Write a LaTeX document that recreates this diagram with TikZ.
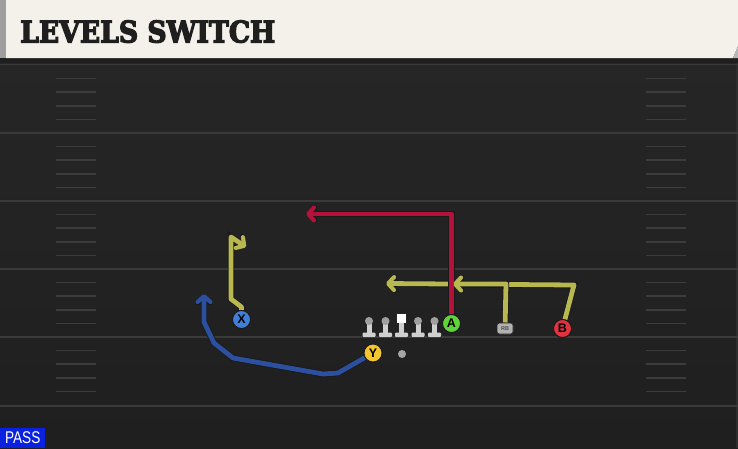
\documentclass[tikz,border=0pt]{standalone}
\usepackage{fontspec}
\setmainfont{Liberation Sans}
\newfontfamily\titlefont[BoldFeatures={FakeBold=4.5}]{DejaVu Serif}
\usetikzlibrary{arrows.meta}
\definecolor{fieldtop}{HTML}{272727}
\definecolor{fieldbot}{HTML}{1F1F1F}
\definecolor{headcream}{HTML}{F4F1EA}
\definecolor{yardline}{HTML}{3A3A3A}
\definecolor{hashc}{HTML}{3C3C3C}
\definecolor{routeyel}{HTML}{B9B74F}
\definecolor{routered}{HTML}{B3123B}
\definecolor{routeblue}{HTML}{2C4F9E}
\definecolor{pA}{HTML}{5ED43A}
\definecolor{pB}{HTML}{E2323F}
\definecolor{pX}{HTML}{3F7FD8}
\definecolor{pY}{HTML}{F2C62C}
\definecolor{linec}{HTML}{CFCFCF}
\definecolor{passblue}{HTML}{0A22E0}
\tikzset{
  player/.style={circle, draw=black!90, line width=0.9pt, minimum size=18pt, inner sep=0pt,
    font=\bfseries\fontsize{12.5}{12.5}\selectfont, text=black},
  rbbox/.style={rounded corners=2.5pt, fill=gray!60, draw=black!85, line width=0.6pt,
    minimum width=16pt, minimum height=11pt, inner sep=0pt,
    font=\bfseries\fontsize{5.5}{5.5}\selectfont, text=black!70},
  route/.style={line width=4.8pt, line join=round, preaction={draw=black!90, line width=6.4pt}},
  tipr/.style={-{Straight Barb[length=6pt,width=13pt,line width=0pt 0.85,round]}},
  yard/.style={draw=yardline, line width=1.8pt},
  hash/.style={draw=hashc, line width=1.5pt},
  pics/lineman/.style={code={
    \filldraw[black!85, line width=1.4pt, rounded corners=1pt] (-6.5,11.5) rectangle (6.5,16);
    \filldraw[black!85, line width=1.4pt] (-2.5,0) rectangle (2.5,12) (0,0) circle (4);
    \fill[linec, rounded corners=1pt] (-6.5,11.5) rectangle (6.5,16);
    \fill[linec] (-2.5,0) rectangle (2.5,12);
    \fill[gray!75] (0,0) circle (4);
  }},
  pics/centerman/.style={code={
    \filldraw[black!85, line width=1.4pt, rounded corners=1pt] (-6.5,11.5) rectangle (6.5,16);
    \filldraw[black!85, line width=1.4pt] (-2.5,0) rectangle (2.5,12) (-4.7,-7) rectangle (4.7,2);
    \fill[linec, rounded corners=1pt] (-6.5,11.5) rectangle (6.5,16);
    \fill[linec] (-2.5,2) rectangle (2.5,12);
    \fill[white] (-4.7,-7) rectangle (4.7,2);
  }},
}
\begin{document}
\begin{tikzpicture}[x=1pt,y=-1pt]
\useasboundingbox (0,0) rectangle (738,448);
% field
\shade[top color=fieldtop, bottom color=fieldbot] (0,0) rectangle (738,448);
\fill[yardline!80!black] (735.5,60) rectangle (738,448);
% hash marks
\foreach \j in {0,...,4}{
  \foreach \i in {1,...,4}{
    \pgfmathsetmacro\yy{65+68*\j+13.6*\i}
    \draw[hash] (56,\yy) -- (96,\yy);
    \draw[hash] (646,\yy) -- (686,\yy);
  }
}
% yard lines
\foreach \yy in {64.5,133,201,269,337,406}{
  \draw[yard] (0,\yy) -- (738,\yy);
}
% header
\fill[black!88] (0,57) rectangle (738,63);
\fill[headcream] (6,0) -- (738,0) -- (738,46) -- (733,58) -- (6,58) -- cycle;
\fill[gray!75] (0,0) rectangle (6,58);
\fill[gray!55] (738,46) -- (733,58) -- (738,58) -- cycle;
\node[anchor=south west, inner sep=0pt, text=black!88] (title) at (20,43)
  {\resizebox{255pt}{22pt}{\titlefont\bfseries LEVELS SWITCH}};
% players
\node[player, fill=pA] (A) at (451.5,323.5) {A};
\node[player, fill=pB] (B) at (562.5,328.5) {B};
\node[player, fill=pX] (X) at (241.5,319.5) {X};
\node[player, fill=pY] (Y) at (373,353) {Y};
\node[rbbox] (RB) at (505,328.5) {RB};
\node[circle, fill=gray!70, inner sep=0pt, minimum size=8pt] (ball) at (402,354) {};
% route waypoints
\coordinate (b1) at (574,285);
\coordinate (b2) at (386,283.5);
\coordinate (r1) at (506,284);
\coordinate (r2) at (453,284);
\coordinate (a1) at (451.5,214);
\coordinate (a2) at (306,214);
\coordinate (x1) at (241.5,307);
\coordinate (x2) at (231,299);
\coordinate (x3) at (231,237);
\coordinate (x4) at (246,247);
\coordinate (y1) at (338,373);
\coordinate (y2) at (323,374);
\coordinate (y3) at (233,358);
\coordinate (y4) at (214,343);
\coordinate (y5) at (204,322);
\coordinate (y6) at (204,294);
% routes
\draw[route, draw=routeblue, tipr] (Y) -- (y1) -- (y2) -- (y3) -- (y4) -- (y5) -- (y6);
\draw[route, draw=routeyel, tipr] (X) -- (x1) -- (x2) -- (x3) -- (x4);
\draw[route, draw=routeyel, tipr] (B) -- (b1) -- (b2);
\draw[route, draw=routered, tipr] (A) -- (a1) -- (a2);
\draw[route, draw=routeyel, tipr] (RB) -- (r1) -- (r2);
% redraw players on top
\node[player, fill=pA] at (A) {A};
\node[player, fill=pB] at (B) {B};
\node[player, fill=pX] at (X) {X};
\node[player, fill=pY] at (Y) {Y};
\node[rbbox] at (RB) {RB};
% linemen
\pic (l1) at (369,321) {lineman};
\pic (l2) at (385.5,321) {lineman};
\pic (c) at (401.5,321) {centerman};
\pic (l4) at (418,321) {lineman};
\pic (l5) at (434.5,321) {lineman};
% pass label
\node[fill=passblue, anchor=south west, minimum width=45pt, minimum height=20pt, inner sep=0pt, text=white]
  (pass) at (0,448) {\scalebox{0.8}[1]{\fontsize{17}{17}\selectfont PASS}};
\end{tikzpicture}
\end{document}
